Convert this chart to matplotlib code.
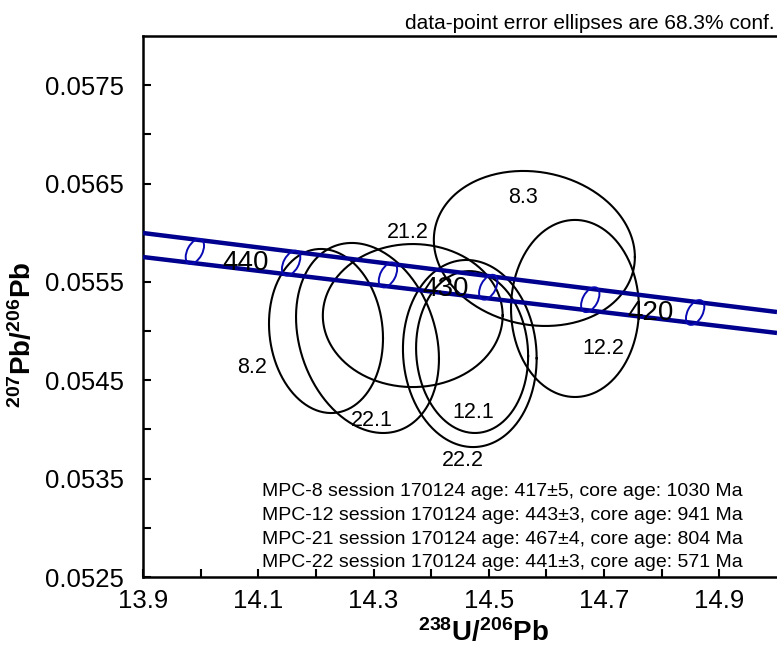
import numpy as np
import matplotlib
matplotlib.use("Agg")
import matplotlib.pyplot as plt
from matplotlib.patches import Ellipse
from matplotlib.transforms import ScaledTranslation

plt.rcParams["font.family"] = ["Liberation Sans", "DejaVu Sans"]
plt.rcParams["mathtext.fontset"] = "custom"
plt.rcParams["mathtext.rm"] = "Liberation Sans"
plt.rcParams["mathtext.bf"] = "Liberation Sans:bold"

# data-point ellipses: centre, half-axes, error correlation
spot_labels = ["8.2", "22.1", "21.2", "22.2", "12.1", "12.2", "8.3"]
spot_x = [14.2175, 14.2895, 14.368, 14.467, 14.471, 14.6495, 14.579]
spot_y = [0.055001, 0.054930, 0.055158, 0.054772, 0.054787, 0.055230, 0.055840]
spot_sx = [0.0989, 0.124, 0.156, 0.116, 0.0972, 0.111, 0.1744]
spot_sy = [0.000834, 0.000966, 0.000727, 0.000951, 0.000823, 0.000900, 0.000788]
spot_rho = [-0.09, -0.22, 0.0, -0.05, -0.05, 0.0, -0.11]
label_x = [14.089, 14.297, 14.360, 14.455, 14.4725, 14.698, 14.559]
label_y = [0.054625, 0.054096, 0.056000, 0.053689, 0.054177, 0.054828, 0.056363]

# concordia band (decay-constant errors) and age markers
band_x = [13.9, 15.0]
band_upper = [0.055997, 0.055194]
band_lower = [0.055753, 0.054981]
marker_age = [445, 440, 435, 430, 425, 420]
marker_x = [13.990, 14.157, 14.325, 14.499, 14.676, 14.858]
age_labels = ["440", "430", "420"]
age_label_x = [14.0787, 14.425, 14.781]
age_label_y = [0.055692, 0.055430, 0.055184]

summary_lines = [
    "MPC-8 session 170124 age: 417\u00b15, core age: 1030 Ma",
    "MPC-12 session 170124 age: 443\u00b13, core age: 941 Ma",
    "MPC-21 session 170124 age: 467\u00b14, core age: 804 Ma",
    "MPC-22 session 170124 age: 441\u00b13, core age: 571 Ma",
]

BAND_COLOR = "#00008f"
MARKER_COLOR = "#0a0ab4"

fig = plt.figure(figsize=(7.77, 6.53), dpi=100)
ax = fig.add_axes([143 / 777, 1 - 577 / 653, 634 / 777, 541 / 653])
ax.set_xlim(13.9, 15.0)
ax.set_ylim(0.0525, 0.0580)

# data-point error ellipses
t = np.linspace(0, 2 * np.pi, 300)
for cx, cy, sx, sy, rho in zip(spot_x, spot_y, spot_sx, spot_sy, spot_rho):
    ex = cx + sx * np.cos(t)
    ey = cy + sy * (rho * np.cos(t) + np.sqrt(1 - rho ** 2) * np.sin(t))
    ax.plot(ex, ey, color="black", lw=1.5, zorder=2)

for text, lx, ly in zip(spot_labels, label_x, label_y):
    ax.text(lx, ly, text, ha="center", va="center", fontsize=15.5, zorder=5)

# concordia band
ax.plot(band_x, band_upper, color=BAND_COLOR, lw=3.2, zorder=3, solid_capstyle="butt")
ax.plot(band_x, band_lower, color=BAND_COLOR, lw=3.2, zorder=3, solid_capstyle="butt")

band_mid = (np.array(band_upper) + np.array(band_lower)) / 2
for mx in marker_x:
    my = np.interp(mx, band_x, band_mid)
    offset = ScaledTranslation(mx, my, ax.transData)
    marker = Ellipse((0, 0), 0.27, 0.15, angle=62, fill=False,
                     edgecolor=MARKER_COLOR, lw=1.4,
                     transform=fig.dpi_scale_trans + offset, zorder=4)
    ax.add_patch(marker)

for text, lx, ly in zip(age_labels, age_label_x, age_label_y):
    ax.text(lx, ly, text, ha="center", va="center", fontsize=20, zorder=6)

for i, line in enumerate(summary_lines):
    ax.text(262 / 777, 1 - (492 + 23.5 * i) / 653, line, transform=fig.transFigure,
            ha="left", va="center", fontsize=14)

fig.text(0.997, 1 - 29 / 653, "data-point error ellipses are 68.3% conf.",
         ha="right", va="baseline", fontsize=15)

# axes styling
xt = np.round(np.arange(13.9, 14.95, 0.1), 1)
ax.set_xticks(xt)
ax.set_xticklabels([f"{v:.1f}" if i % 2 == 0 else "" for i, v in enumerate(xt)])
yt = np.round(np.arange(0.0525, 0.05755, 0.0005), 4)
ax.set_yticks(yt)
ax.set_yticklabels([f"{v:.4f}" if i % 2 == 0 else "" for i, v in enumerate(yt)])
ax.tick_params(direction="in", length=5.5, width=1.5, labelsize=18.5)
ax.tick_params(axis="x", pad=9)
ax.tick_params(axis="y", pad=14)
for side in ["left", "bottom", "top"]:
    ax.spines[side].set_linewidth(1.8)
ax.spines["right"].set_visible(False)

ax.set_xlabel(r"$\mathbf{^{238}U/^{206}Pb}$", fontsize=20)
ax.xaxis.set_label_coords((483 - 143) / 634, -0.076)
ax.set_ylabel(r"$\mathbf{^{207}Pb/^{206}Pb}$", fontsize=20)
ax.yaxis.set_label_coords((37 - 143) / 634, (577 - 335) / 541)

fig.savefig("out.png", dpi=100)
